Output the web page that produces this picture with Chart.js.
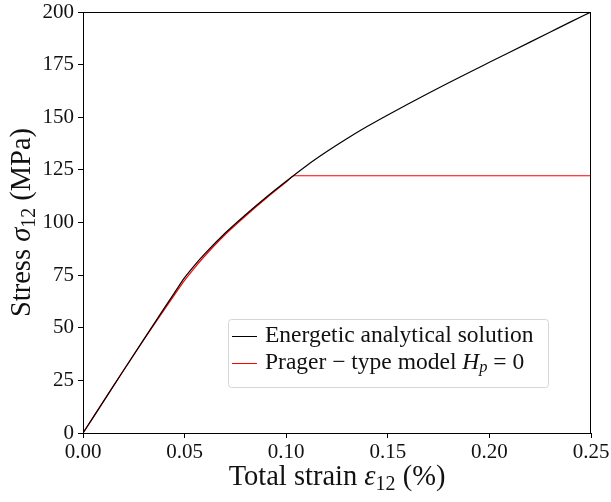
<!DOCTYPE html>
<html><head><meta charset="utf-8">
<script src="https://cdn.jsdelivr.net/npm/chart.js@4"></script>
<style>html,body{margin:0;padding:0;background:#fff}#w{width:611px;height:502px}</style>
</head><body><div id="w"><canvas id="c"></canvas></div>
<script>
const strainEnergetic = [0,0.01,0.02,0.03,0.04,0.045,0.05,0.055,0.06,0.07,0.08,0.09,0.10,0.11,0.12,0.13,0.14,0.15,0.16,0.17,0.18,0.19,0.20,0.21,0.22,0.23,0.24,0.25];
const stressEnergetic = [0,14.9,29.8,44.6,59.3,66.6,73.8,79.8,85.2,95.0,103.7,111.9,119.6,127.0,133.7,139.9,145.7,151.1,156.3,161.4,166.4,171.3,176.1,180.9,185.7,190.5,195.3,200];
const strainPrager = [0,0.01,0.02,0.03,0.04,0.045,0.05,0.055,0.06,0.07,0.08,0.09,0.10,0.104,0.25];
const stressPrager = [0,14.9,29.8,44.4,58.6,65.6,72.5,78.6,84.2,94.3,103.1,111.4,119.2,122.2,122.2];
const xTicks = [0,0.05,0.10,0.15,0.20,0.25];
const yTicks = [0,25,50,75,100,125,150,175,200];
const seriesLabels = ["Energetic analytical solution","Prager \u2212 type model H_p = 0"];

const FONT = "'Liberation Serif', 'DejaVu Serif', serif";
const toPts = (xs, ys) => xs.map((x,i)=>({x:x,y:ys[i]}));

function drawRich(ctx, parts, x, y, size){
  let cx = x;
  for (const p of parts){
    const fs = p.sub ? size*0.7 : size;
    ctx.font = (p.italic?'italic ':'') + fs + 'px ' + FONT;
    ctx.fillText(p.t, cx, y + (p.sub ? size*0.22 : 0));
    cx += ctx.measureText(p.t).width;
  }
  return cx - x;
}
function richWidth(ctx, parts, size){
  let w=0;
  for (const p of parts){
    const fs = p.sub ? size*0.7 : size;
    ctx.font = (p.italic?'italic ':'') + fs + 'px ' + FONT;
    w += ctx.measureText(p.t).width;
  }
  return w;
}
function parseLabel(s){
  const m = s.match(/^(.*?)(\w)_(\w)(.*)$/);
  if(!m) return [{t:s}];
  return [{t:m[1]},{t:m[2],italic:true},{t:m[3],italic:true,sub:true},{t:m[4]}];
}

const deco = {
  id:'deco',
  afterDraw(chart){
    const {ctx, chartArea:a} = chart;
    ctx.save();
    ctx.strokeStyle='#000'; ctx.lineWidth=1;
    ctx.strokeRect(a.left+0.5, a.top+0.5, a.right-a.left-1, a.bottom-a.top);
    ctx.fillStyle='#111'; ctx.textBaseline='middle';
    const ts=28.5;
    const xt=[{t:'Total strain '},{t:'\u03B5',italic:true},{t:'12',sub:true},{t:' (%)'}];
    let w=richWidth(ctx,xt,ts);
    drawRich(ctx,xt,(a.left+a.right)/2 - w/2, 478, ts);
    const yt=[{t:'Stress '},{t:'\u03C3',italic:true},{t:'12',sub:true},{t:' (MPa)'}];
    ctx.save();
    ctx.translate(23,(a.top+a.bottom)/2);
    ctx.rotate(-Math.PI/2);
    w=richWidth(ctx,yt,ts);
    drawRich(ctx,yt,-w/2,0,ts);
    ctx.restore();
    // legend
    const lx=228, ly=319, lw=320, lh=68;
    ctx.fillStyle='rgba(255,255,255,0.8)';
    ctx.strokeStyle='#d6d6d6';
    ctx.beginPath();
    if(ctx.roundRect) ctx.roundRect(lx+0.5,ly+0.5,lw,lh,3); else ctx.rect(lx+0.5,ly+0.5,lw,lh);
    ctx.fill(); ctx.stroke();
    chart.data.datasets.forEach((ds,i)=>{
      const yy = ly + 17 + i*27;
      ctx.strokeStyle=ds.borderColor; ctx.lineWidth=1;
      ctx.beginPath(); ctx.moveTo(lx+4,yy+0.5); ctx.lineTo(lx+29,yy+0.5); ctx.stroke();
      ctx.fillStyle='#111';
      drawRich(ctx, parseLabel(ds.label), lx+37, yy, 23.5);
    });
    ctx.restore();
  }
};

new Chart(document.getElementById('c'),{
  type:'line',
  data:{datasets:[
    {label:seriesLabels[0], data:toPts(strainEnergetic,stressEnergetic), borderColor:'#000', borderWidth:1.2, pointRadius:0, cubicInterpolationMode:'monotone', fill:false},
    {label:seriesLabels[1], data:toPts(strainPrager,stressPrager), borderColor:'#ff0000', borderWidth:1.2, pointRadius:0, cubicInterpolationMode:'monotone', fill:false}
  ]},
  options:{
    responsive:true, maintainAspectRatio:false, animation:false,
    layout:{padding:{top:12,right:20,left:0,bottom:0}},
    plugins:{legend:{display:false},tooltip:{enabled:false}},
    scales:{
      x:{type:'linear',min:0,max:0.25,
        afterBuildTicks:s=>{s.ticks=xTicks.map(v=>({value:v}));},
        afterFit:s=>{s.height=69; s.paddingLeft=0; s.paddingRight=0;},
        ticks:{callback:v=>v.toFixed(2),font:{family:FONT,size:21},color:'#111',padding:2,maxRotation:0,autoSkip:false},
        grid:{drawOnChartArea:false,drawTicks:true,tickLength:5,color:'#000'},
        border:{display:true,color:'#000',width:1}},
      y:{min:0,max:200,
        afterBuildTicks:s=>{s.ticks=yTicks.map(v=>({value:v}));},
        afterFit:s=>{s.width=83; s.paddingTop=0; s.paddingBottom=0;},
        ticks:{font:{family:FONT,size:21},color:'#111',padding:4,autoSkip:false},
        grid:{drawOnChartArea:false,drawTicks:true,tickLength:5,color:'#000'},
        border:{display:true,color:'#000',width:1}}
    }
  },
  plugins:[deco]
});
</script></body></html>
